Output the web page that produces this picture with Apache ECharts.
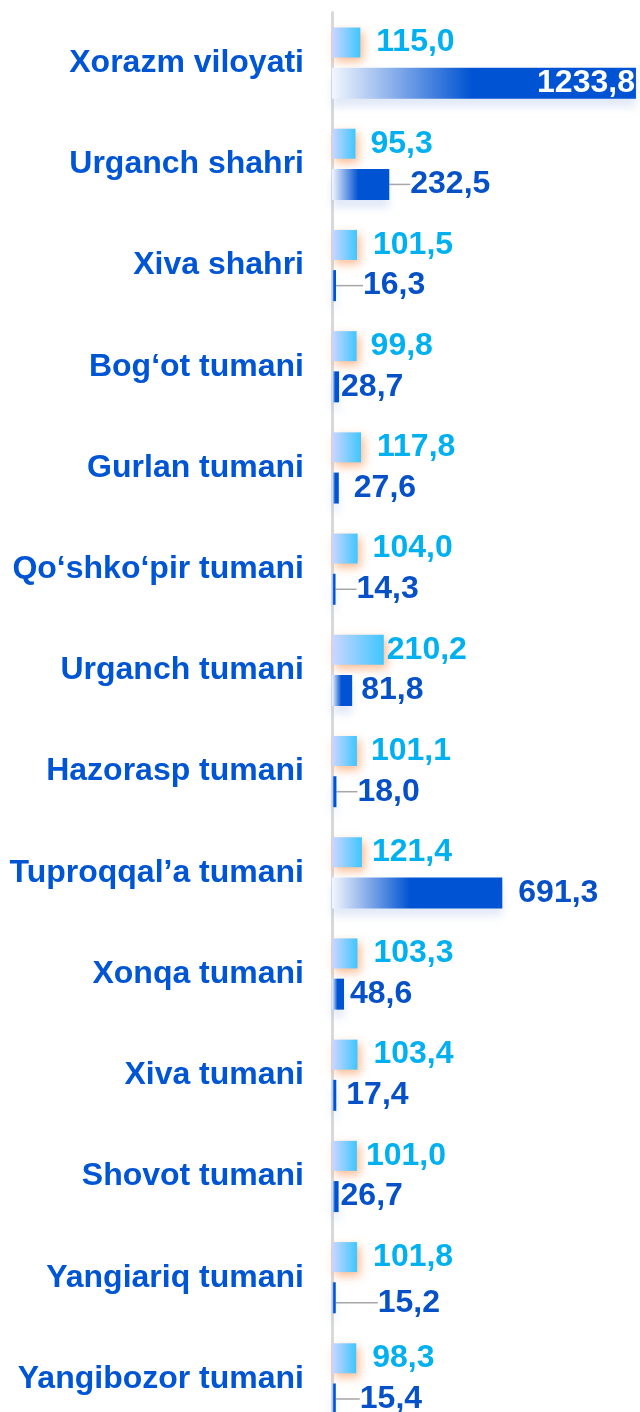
<!DOCTYPE html>
<html>
<head>
<meta charset="utf-8">
<script src="https://cdn.jsdelivr.net/npm/echarts@6/dist/echarts.min.js"></script>
<style>
  html, body { margin: 0; padding: 0; background: #ffffff; }
  #chart { width: 640px; height: 1412px; }
</style>
</head>
<body>
<div id="chart"></div>
<script>
// Districts of Xorazm region, top to bottom
const categories = [
  'Xorazm viloyati', 'Urganch shahri', 'Xiva shahri', 'Bog\u2018ot tumani',
  'Gurlan tumani', 'Qo\u2018shko\u2018pir tumani', 'Urganch tumani', 'Hazorasp tumani',
  'Tuproqqal\u2019a tumani', 'Xonqa tumani', 'Xiva tumani', 'Shovot tumani',
  'Yangiariq tumani', 'Yangibozor tumani'
];
// Growth rate, %
const growthValues = [115.0, 95.3, 101.5, 99.8, 117.8, 104.0, 210.2, 101.1, 121.4, 103.3, 103.4, 101.0, 101.8, 98.3];
// Volume
const volumeValues = [1233.8, 232.5, 16.3, 28.7, 27.6, 14.3, 81.8, 18.0, 691.3, 48.6, 17.4, 26.7, 15.2, 15.4];

// Label placement tweaks (pixels)
const growthLabelGap = [16, 15, 16, 14, 16, 15, 3, 14, 10, 16, 16, 9, 16, 16];
const volumeLabelDx = [0, 20, 26, 1, 14, 20, 8, 20, 15, 5, 9, 1, 41, 23];
const volumeLabelDy = [0, 0, 0, 0, 0, 0, 0, 0, 0, 0, 0, 0, 5, 0];
const volumeLabelLine = [false, true, true, false, false, true, false, true, false, false, false, false, true, true];

const FONT = '"Liberation Sans", Arial, sans-serif';
const fmt = v => v.toFixed(1).replace('.', ',');

const chart = echarts.init(document.getElementById('chart'), null, { renderer: 'canvas' });

const growthColor = new echarts.graphic.LinearGradient(0, 0, 1, 0, [
  { offset: 0, color: '#cdd6ff' },
  { offset: 1, color: '#3ec6ff' }
]);
const volumeColor = new echarts.graphic.LinearGradient(0, 0, 1, 0, [
  { offset: 0, color: '#f3f6fd' },
  { offset: 0.46, color: '#0053d2' },
  { offset: 1, color: '#0053d2' }
]);

chart.setOption({
  animation: false,
  grid: {
    left: 332, right: 4, top: 12.5, height: 1417,
    containLabel: false, outerBoundsMode: 'none'
  },
  xAxis: {
    type: 'value', min: 0, max: 1234,
    show: false, splitLine: { show: false }
  },
  yAxis: {
    type: 'category', inverse: true, data: categories,
    axisTick: { show: false },
    axisLine: { show: true, lineStyle: { color: '#d9d9d9', width: 3 } },
    axisLabel: {
      margin: 28, color: '#0055d4', fontSize: 32, fontWeight: 'bold', fontFamily: FONT,
      padding: [4, 0, 0, 0]
    }
  },
  series: [
    {
      name: 'growth', type: 'bar', barWidth: 30, barGap: '34%',
      itemStyle: {
        color: growthColor,
        shadowColor: 'rgba(248,140,70,0.6)', shadowBlur: 10,
        shadowOffsetX: 3, shadowOffsetY: 4
      },
      data: growthValues.map((v, i) => ({
        value: v,
        label: { distance: growthLabelGap[i] }
      })),
      label: {
        show: true, position: 'right', formatter: p => fmt(p.value),
        color: '#00b0f0', fontSize: 32, fontWeight: 'bold', fontFamily: FONT
      }
    },
    {
      name: 'volume', type: 'bar', barWidth: 31,
      itemStyle: {
        color: volumeColor,
        shadowColor: 'rgba(150,175,225,0.28)', shadowBlur: 8, shadowOffsetY: 8
      },
      data: volumeValues.map((v, i) => {
        const item = { value: v, labelLine: { show: volumeLabelLine[i] } };
        if (i === 0) {
          item.label = { position: 'insideRight', color: '#ffffff', distance: 1 };
        }
        return item;
      }),
      label: {
        show: true, position: 'right', distance: 1, formatter: p => fmt(p.value),
        color: '#0650c8', fontSize: 32, fontWeight: 'bold', fontFamily: FONT
      },
      labelLine: { show: false, lineStyle: { color: '#a6a6a6', width: 1.5 } },
      labelLayout: p => ({ dx: volumeLabelDx[p.dataIndex], dy: volumeLabelDy[p.dataIndex] })
    }
  ]
});
</script>
</body>
</html>
